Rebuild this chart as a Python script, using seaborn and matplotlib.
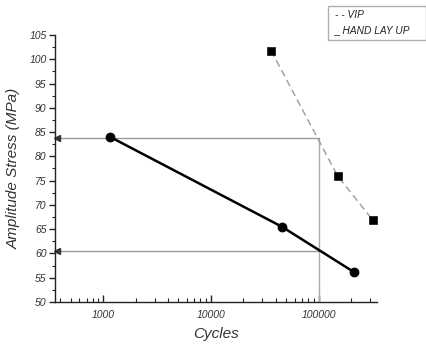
import matplotlib
matplotlib.use("Agg")
import matplotlib.pyplot as plt
import seaborn as sns
import pandas as pd
from matplotlib.ticker import LogLocator, FixedLocator, NullFormatter, FuncFormatter

sns.set_style("white")
plt.rcParams['font.family'] = ['Liberation Sans', 'DejaVu Sans']

# Data
hlu_cycles = [1160, 45700, 212000]
hlu_stress = [84.0, 65.5, 56.2]
vip_cycles = [36200, 150000, 318000]
vip_stress = [101.8, 76.0, 66.9]
ref_cycles = 100000
ref_stress = [83.7, 60.6]
y_ticks = [50, 55, 60, 65, 70, 75, 80, 85, 90, 95, 100, 105]
x_ticks = [1000, 10000, 100000]
legend_labels = ["- - VIP", "_ HAND LAY UP"]

df_hlu = pd.DataFrame({"Cycles": hlu_cycles, "Stress": hlu_stress})
df_vip = pd.DataFrame({"Cycles": vip_cycles, "Stress": vip_stress})

fig = plt.figure(figsize=(4.26, 3.45), dpi=100)
ax = fig.add_axes([0.129, 0.1246, 0.756, 0.774])

xmin, xmax = 356, 349000
ax.set_xscale("log")
ax.set_xlim(xmin, xmax)
ax.set_ylim(50, 105)

# reference lines
ax.plot([ref_cycles, ref_cycles], [50, ref_stress[0]], color="#ababab", lw=1.0, zorder=1)
for s in ref_stress:
    ax.plot([xmin, ref_cycles], [s, s], color="#9a9a9a", lw=1.0, zorder=1)
    ax.plot([xmin * 1.035], [s], marker="<", color="#333333", markersize=3.8, zorder=2,
            clip_on=False)

sns.lineplot(data=df_hlu, x="Cycles", y="Stress", ax=ax, color="black", lw=1.8,
             marker="o", markersize=6.3, markeredgecolor="black", zorder=3)
sns.lineplot(data=df_vip, x="Cycles", y="Stress", ax=ax, color="#9a9a9a", lw=1.0,
             linestyle=(0, (5, 3)), marker=None, zorder=2)
sns.scatterplot(data=df_vip, x="Cycles", y="Stress", ax=ax, color="black",
                marker="s", s=30, edgecolor="black", zorder=4)

for sp in ["top", "right"]:
    ax.spines[sp].set_visible(False)
for sp in ["left", "bottom"]:
    ax.spines[sp].set_color("#222222")
    ax.spines[sp].set_linewidth(1.0)

ax.yaxis.set_major_locator(FixedLocator(y_ticks))
ax.yaxis.set_minor_locator(FixedLocator([v + 2.5 for v in y_ticks[:-1]]))
ax.xaxis.set_major_locator(FixedLocator(x_ticks))
ax.xaxis.set_minor_locator(LogLocator(base=10, subs=range(2, 10)))
ax.xaxis.set_minor_formatter(NullFormatter())
ax.xaxis.set_major_formatter(FuncFormatter(lambda v, p: f"{int(v)}"))

ax.tick_params(axis="y", which="major", direction="out", length=4, width=1, color="#222222",
               labelsize=7.5, pad=2, left=True)
ax.tick_params(axis="y", which="minor", direction="out", length=2, width=0.8, color="#222222", left=True)
ax.tick_params(axis="x", which="major", direction="in", length=5, width=1, color="#222222",
               labelsize=7.5, pad=6, bottom=True)
ax.tick_params(axis="x", which="minor", direction="in", length=3, width=0.8, color="#222222", bottom=True)
for lab in ax.get_xticklabels() + ax.get_yticklabels():
    lab.set_fontstyle("italic")
    lab.set_color("#333333")

ax.set_xlabel("Cycles", fontsize=11, fontstyle="italic", color="#333333", labelpad=5)
ax.set_ylabel("Amplitude Stress (MPa)", fontsize=11, fontstyle="italic", color="#333333", labelpad=6)

# legend box
fig.patches.append(plt.Rectangle((328/426, 1 - 40/345), 98/426, 34/345,
                                 transform=fig.transFigure, fill=False,
                                 edgecolor="#b0b0b0", lw=1.0))
fig.text(335/426, 1 - 15/345, legend_labels[0], fontsize=7.3, fontstyle="italic",
         color="#222222", va="center")
fig.text(335/426, 1 - 30/345, legend_labels[1], fontsize=7.3, fontstyle="italic",
         color="#222222", va="center")

fig.savefig("out.png", dpi=100)
